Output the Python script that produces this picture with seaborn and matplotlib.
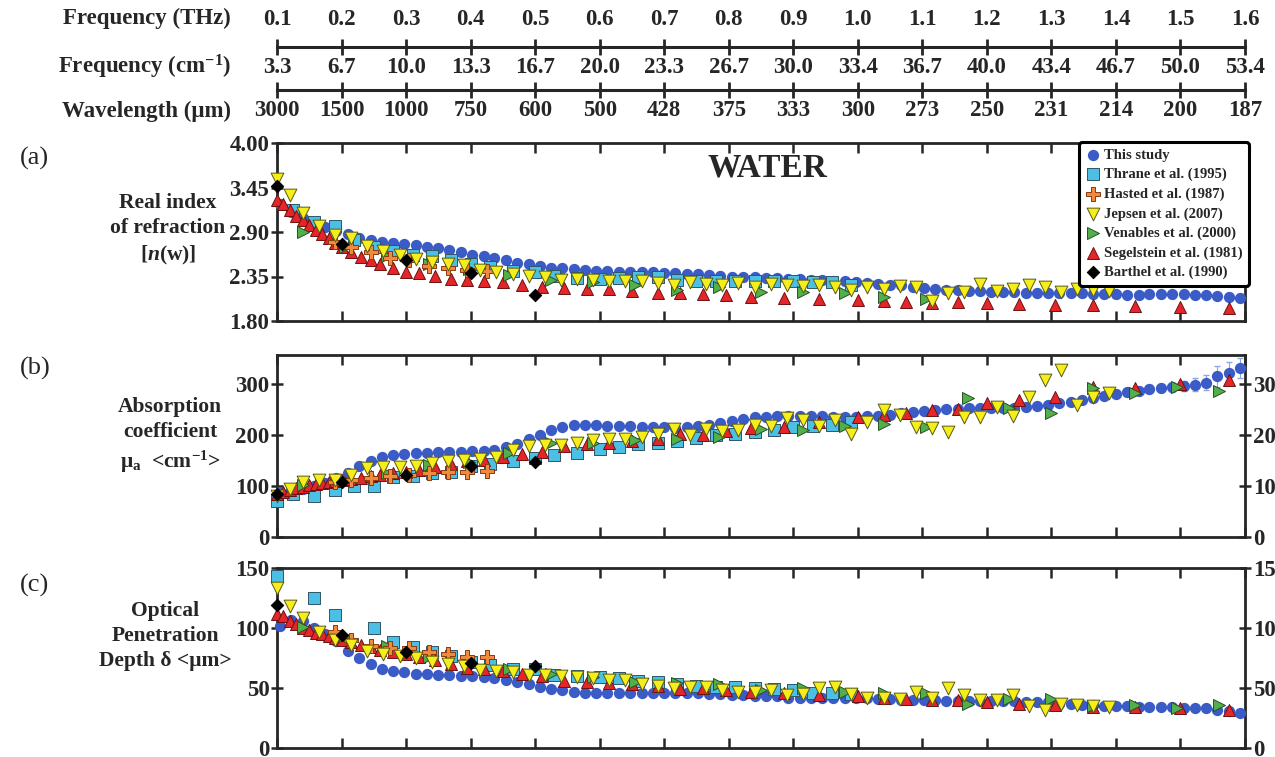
import numpy as np
import pandas as pd
import matplotlib.pyplot as plt
import seaborn as sns

sns.set_style("ticks")
# fonte serifada em negrito como no artigo (definir depois do set_style)
plt.rcParams['font.family'] = ['Liberation Serif', 'DejaVu Serif']
plt.rcParams['font.weight'] = 'bold'
plt.rcParams['mathtext.fontset'] = 'custom'
plt.rcParams['mathtext.rm'] = 'Liberation Serif:bold'
plt.rcParams['mathtext.it'] = 'Liberation Serif:italic:bold'
plt.rcParams['mathtext.bf'] = 'Liberation Serif:bold'

# eixos de frequencia / comprimento de onda
thz_ticks = [0.1, 0.2, 0.3, 0.4, 0.5, 0.6, 0.7, 0.8, 0.9, 1.0, 1.1, 1.2, 1.3, 1.4, 1.5, 1.6]
thz_labels = ['0.1', '0.2', '0.3', '0.4', '0.5', '0.6', '0.7', '0.8', '0.9', '1.0',
              '1.1', '1.2', '1.3', '1.4', '1.5', '1.6']
cm_labels = ['3.3', '6.7', '10.0', '13.3', '16.7', '20.0', '23.3', '26.7', '30.0', '33.4',
             '36.7', '40.0', '43.4', '46.7', '50.0', '53.4']
wl_labels = ['3000', '1500', '1000', '750', '600', '500', '428', '375', '333', '300',
             '273', '250', '231', '214', '200', '187']

# This study
x_this = [0.105, 0.122, 0.140, 0.157, 0.175, 0.192, 0.210, 0.227, 0.245, 0.262,
          0.280, 0.297, 0.315, 0.332, 0.350, 0.367, 0.385, 0.402, 0.420, 0.437,
          0.455, 0.472, 0.490, 0.507, 0.525, 0.542, 0.560, 0.577, 0.595, 0.612,
          0.630, 0.647, 0.665, 0.682, 0.700, 0.717, 0.735, 0.752, 0.770, 0.787,
          0.805, 0.822, 0.840, 0.857, 0.875, 0.892, 0.910, 0.927, 0.945, 0.962,
          0.980, 0.997, 1.015, 1.032, 1.050, 1.067, 1.085, 1.102, 1.120, 1.137,
          1.155, 1.172, 1.190, 1.207, 1.225, 1.242, 1.260, 1.277, 1.295, 1.312,
          1.330, 1.347, 1.365, 1.382, 1.400, 1.417, 1.435, 1.452, 1.470, 1.487,
          1.505, 1.522, 1.540, 1.557, 1.575, 1.592]
n_this = [3.25, 3.15, 3.07, 3.01, 2.96, 2.91, 2.87, 2.83, 2.80, 2.78,
          2.77, 2.75, 2.74, 2.72, 2.70, 2.68, 2.65, 2.62, 2.60, 2.58,
          2.55, 2.52, 2.50, 2.48, 2.46, 2.45, 2.44, 2.43, 2.42, 2.42,
          2.41, 2.41, 2.40, 2.40, 2.39, 2.39, 2.38, 2.38, 2.37, 2.36,
          2.35, 2.34, 2.34, 2.33, 2.33, 2.32, 2.32, 2.31, 2.31, 2.30,
          2.29, 2.28, 2.27, 2.26, 2.25, 2.24, 2.22, 2.21, 2.19, 2.18,
          2.18, 2.17, 2.17, 2.16, 2.16, 2.16, 2.15, 2.15, 2.15, 2.14,
          2.14, 2.14, 2.13, 2.13, 2.13, 2.12, 2.12, 2.13, 2.13, 2.13,
          2.13, 2.12, 2.12, 2.11, 2.10, 2.09]
mu_this = [88, 92, 95, 100, 106, 115, 126, 140, 150, 156,
           160, 163, 164, 165, 166, 166, 167, 168, 169, 171,
           176, 183, 192, 201, 210, 216, 219, 220, 219, 218,
           217, 217, 216, 216, 215, 214, 215, 217, 220, 224,
           228, 232, 235, 236, 237, 237, 238, 238, 237, 236,
           236, 236, 237, 238, 240, 243, 245, 247, 249, 251,
           252, 253, 253, 253, 253, 254, 255, 257, 259, 262,
           265, 269, 273, 277, 281, 284, 287, 290, 292, 294,
           296, 299, 303, 315, 322, 332]
mu_err = [4, 4, 4, 4, 4, 4, 4, 4, 4, 4,
          4, 4, 4, 4, 4, 4, 4, 4, 4, 4,
          4, 4, 4, 4, 4, 4, 4, 4, 4, 4,
          4, 4, 4, 4, 4, 4, 4, 4, 4, 4,
          4, 4, 4, 4, 4, 4, 4, 4, 4, 4,
          5, 5, 5, 5, 5, 5, 5, 5, 5, 5,
          5, 5, 5, 5, 5, 5, 6, 6, 6, 6,
          6, 6, 7, 7, 7, 7, 8, 8, 8, 9,
          10, 12, 15, 20, 22, 20]
d_this = [102, 107, 106, 100, 95, 89, 81, 75, 70, 66,
          64, 63, 62, 62, 61, 61, 60, 60, 59, 58,
          57, 55, 53, 51, 49, 48, 47, 46, 46, 46,
          46, 46, 46, 46, 46, 46, 46, 46, 45, 45,
          44, 44, 43, 43, 43, 42, 42, 42, 42, 42,
          42, 42, 42, 41, 41, 40, 40, 40, 40, 39,
          39, 39, 39, 39, 39, 39, 38, 38, 38, 37,
          37, 36, 36, 35, 35, 35, 34, 34, 34, 34,
          33, 33, 33, 32, 31, 29]

# Thrane et al. (1995)
x_thr = [0.100, 0.125, 0.158, 0.190, 0.220, 0.250, 0.280, 0.310, 0.340, 0.370,
         0.400, 0.430, 0.465, 0.500, 0.530, 0.565, 0.600, 0.630, 0.660, 0.690,
         0.720, 0.750, 0.780, 0.810, 0.840, 0.870, 0.900, 0.930, 0.960, 0.990]
n_thr = [np.nan, 3.17, 3.02, 2.98, 2.80, 2.72, 2.66, 2.62, 2.60, 2.55,
         2.50, 2.47, 2.42, 2.40, 2.36, 2.33, 2.32, 2.33, 2.35, 2.34,
         2.31, 2.30, 2.30, 2.30, 2.29, 2.29, 2.29, 2.28, 2.28, 2.25]
mu_thr = [70, 85, 80, 92, 100, 100, 118, 120, 125, 128,
          140, 143, 150, 155, 160, 165, 172, 176, 182, 184,
          188, 195, 200, 203, 206, 210, 215, 217, 219, 225]
d_thr = [143, np.nan, 125, 111, np.nan, 100, 88, 84, 80, 77,
         72, 69, 66, 66, 61, 60, 59, 58, 56, 55,
         53, 52, 51, 51, 50, 49, 48, 46, 46, 45]

# Hasted et al. (1987)
x_has = [0.190, 0.215, 0.245, 0.275, 0.305, 0.335, 0.365, 0.395, 0.425]
n_has = [2.78, 2.72, 2.65, 2.58, 2.55, 2.48, 2.46, 2.43, 2.42]
mu_has = [108, 112, 115, 120, 122, 125, 127, 128, 130]
d_has = [97, 90, 85, 83, 83, 80, 78, 76, 76]

# Jepsen et al. (2007)
x_jep = [0.100, 0.120, 0.140, 0.165, 0.190, 0.215, 0.240, 0.265, 0.290, 0.315,
         0.340, 0.365, 0.390, 0.415, 0.440, 0.465, 0.490, 0.515, 0.540, 0.565,
         0.590, 0.615, 0.640, 0.665, 0.690, 0.715, 0.740, 0.765, 0.790, 0.815,
         0.840, 0.865, 0.890, 0.915, 0.940, 0.965, 0.990, 1.015, 1.040, 1.065,
         1.090, 1.115, 1.140, 1.165, 1.190, 1.215, 1.240, 1.265, 1.290, 1.315,
         1.340, 1.365, 1.390]
n_jep = [3.56, 3.36, 3.13, 2.98, 2.86, 2.83, 2.73, 2.67, 2.62, 2.57,
         2.53, 2.51, 2.49, 2.43, 2.41, 2.38, 2.36, 2.35, 2.31, 2.32,
         2.31, 2.30, 2.30, 2.29, 2.27, 2.25, 2.28, 2.26, 2.25, 2.27,
         2.22, 2.26, 2.24, 2.23, 2.25, 2.22, 2.18, 2.22, 2.20, 2.23,
         2.22, 2.05, 2.15, 2.16, 2.26, 2.17, 2.19, 2.24, 2.22, 2.16,
         2.20, 2.18, 2.17]
mu_jep = [80, 95, 108, 112, 112, 122, 135, 137, 138, 140,
          145, 150, 152, 153, 157, 170, 178, 180, 181, 185,
          190, 192, 193, 196, 203, 212, 200, 212, 207, 210,
          220, 218, 233, 230, 218, 230, 203, 225, 250, 240,
          216, 214, 206, 235, 235, 255, 237, 274, 308, 327,
          259, 274, 283]
d_jep = [133, 118, 108, 97, 90, 86, 81, 78, 77, 75,
         72, 70, 68, 65, 64, 63, 61, 61, 60, 59,
         58, 57, 57, 53, 52, 50, 51, 51, 48, 47,
         47, 48, 44, 45, 50, 51, 45, 42, 42, 41,
         47, 42, 50, 44, 40, 40, 44, 35, 32, 37,
         36, 35, 34]

# Venables et al. (2000)
x_ven = [0.140, 0.205, 0.270, 0.335, 0.398, 0.460, 0.525, 0.590, 0.655, 0.720,
         0.785, 0.850, 0.915, 0.980, 1.040, 1.105, 1.170, 1.235, 1.300, 1.365,
         1.430, 1.495, 1.560]
n_ven = [2.90, 2.72, 2.60, 2.50, 2.44, 2.37, 2.31, 2.28, 2.24, 2.18,
         2.22, 2.16, 2.16, 2.14, 2.10, 2.07, np.nan, np.nan, np.nan, np.nan,
         np.nan, np.nan, np.nan]
mu_ven = [102, 112, 125, 141, 147, 164, 184, 184, 190, 193,
          196, 212, 209, 218, 222, 216, 272, 253, 243, 292,
          282, 294, 287]
d_ven = [101, 93, 85, 76, 71, 66, 62, 59, 55, 54,
         53, 48, 50, 47, 46, 46, 37, 41, 41, 35,
         36, 33, 36]

# Segelstein et al. (1981)
x_seg = [0.100, 0.110, 0.120, 0.130, 0.140, 0.150, 0.160, 0.170, 0.180, 0.190,
         0.200, 0.215, 0.230, 0.245, 0.260, 0.280, 0.300, 0.320, 0.345, 0.370,
         0.395, 0.420, 0.450, 0.480, 0.510, 0.545, 0.580, 0.615, 0.650, 0.690,
         0.725, 0.760, 0.795, 0.835, 0.885, 0.940, 1.000, 1.040, 1.075, 1.115,
         1.155, 1.200, 1.250, 1.305, 1.365, 1.430, 1.500, 1.575]
n_seg = [3.30, 3.24, 3.17, 3.10, 3.05, 2.99, 2.92, 2.87, 2.82, 2.77,
         2.72, 2.65, 2.59, 2.55, 2.50, 2.46, 2.40, 2.39, 2.36, 2.32,
         2.31, 2.30, 2.28, 2.25, 2.22, 2.21, 2.20, 2.19, 2.17, 2.15,
         2.15, 2.13, 2.12, 2.10, 2.09, 2.07, 2.06, 2.05, 2.03, 2.02,
         2.03, 2.02, 2.01, 2.00, 2.00, 1.98, 1.97, 1.96]
mu_seg = [85, 89, 93, 96, 99, 102, 104, 105, 107, 109,
          111, 113, 116, 119, 122, 125, 128, 132, 137, 143,
          150, 152, 157, 162, 167, 178, 182, 185, 188, 193,
          203, 200, 207, 213, 216, 226, 235, 239, 244, 250,
          252, 262, 269, 275, 295, 293, 301, 308]
d_seg = [112, 110, 106, 103, 100, 98, 96, 95, 93, 92,
         90, 88, 86, 84, 82, 80, 78, 76, 73, 70,
         67, 66, 64, 62, 60, 56, 55, 54, 53, 52,
         49, 50, 48, 47, 46, 44, 43, 42, 41, 40,
         40, 38, 37, 36, 34, 34, 33, 32]

# Barthel et al. (1990)
x_bar = [0.1, 0.2, 0.3, 0.4, 0.5]
n_bar = [3.47, 2.75, 2.55, 2.39, 2.12]
mu_bar = [85, 108, 122, 140, 148]
d_bar = [119, 94, 80, 71, 68]

# estilo de cada serie: (marcador, cor, borda, tamanho, ordem)
estilos = {
    'This study':            ('o', '#3b5cc6', '#3b5cc6', 66, 3),
    'Thrane et al. (1995)':  ('s', '#4cc0e4', '#2f5666', 74, 4),
    'Hasted et al. (1987)':  ('P', '#f08a3c', '#8a3a10', 90, 6),
    'Jepsen et al. (2007)':  ('v', '#f5ee1a', '#5a5a10', 84, 7),
    'Venables et al. (2000)': ('>', '#52b04a', '#284f26', 74, 5),
    'Segelstein et al. (1981)': ('^', '#e4262a', '#6e1010', 74, 4.5),
    'Barthel et al. (1990)': ('D', '#000000', '#000000', 40, 8),
}

fig = plt.figure(figsize=(12.75, 7.57), dpi=100)
L, W = 277 / 1275, 968 / 1275
ax_a = fig.add_axes([L, 1 - 321 / 757, W, 178 / 757])
ax_b = fig.add_axes([L, 1 - 537 / 757, W, 182 / 757])
ax_c = fig.add_axes([L, 1 - 748 / 757, W, 180 / 757])

dados = {
    'This study': (x_this, n_this, mu_this, d_this),
    'Thrane et al. (1995)': (x_thr, n_thr, mu_thr, d_thr),
    'Hasted et al. (1987)': (x_has, n_has, mu_has, d_has),
    'Jepsen et al. (2007)': (x_jep, n_jep, mu_jep, d_jep),
    'Venables et al. (2000)': (x_ven, n_ven, mu_ven, d_ven),
    'Segelstein et al. (1981)': (x_seg, n_seg, mu_seg, d_seg),
    'Barthel et al. (1990)': (x_bar, n_bar, mu_bar, d_bar),
}

# barras de erro do "This study"
cor_erro = '#8ea6e6'
ax_a.errorbar(x_this, n_this, yerr=0.04, fmt='none', ecolor=cor_erro, elinewidth=0.8, capsize=2, zorder=2)
ax_b.errorbar(x_this, mu_this, yerr=mu_err, fmt='none', ecolor=cor_erro, elinewidth=0.8, capsize=2, zorder=2)
ax_c.errorbar(x_this, d_this, yerr=1.5, fmt='none', ecolor=cor_erro, elinewidth=0.8, capsize=2, zorder=2)

for nome, (x, n, mu, d) in dados.items():
    marc, cor, borda, tam, z = estilos[nome]
    lw = 0 if nome == 'This study' else 0.7
    for ax, y in [(ax_a, n), (ax_b, mu), (ax_c, d)]:
        sns.scatterplot(x=x, y=y, ax=ax, marker=marc, color=cor, edgecolor=borda,
                        linewidth=lw, s=tam, zorder=z, clip_on=False,
                        label=nome if ax is ax_a else None, legend=False)

for ax in [ax_a, ax_b, ax_c]:
    ax.set_xlim(0.1, 1.6)
    ax.set_xticks(thz_ticks)
    ax.set_xlabel('')
    ax.set_ylabel('')
    ax.tick_params(axis='x', direction='in', top=True, bottom=True, labelbottom=False,
                   length=7, width=1.8)
    ax.tick_params(axis='y', direction='inout', length=9, width=1.8, labelsize=16.5, pad=1)
    for s in ax.spines.values():
        s.set_linewidth(2.0)
        s.set_visible(True)

ax_a.set_ylim(1.8, 4.0)
ax_a.set_yticks([1.80, 2.35, 2.90, 3.45, 4.00], ['1.80', '2.35', '2.90', '3.45', '4.00'])
ax_b.set_ylim(0, 357)
ax_b.set_yticks([0, 100, 200, 300], ['0', '100', '200', '300'])
ax_c.set_ylim(0, 150)
ax_c.set_yticks([0, 50, 100, 150], ['0', '50', '100', '150'])
for ax in [ax_b, ax_c]:
    ax.tick_params(axis='y', right=True, labelright=True)

ax_a.text(0.507, 0.86, 'WATER', transform=ax_a.transAxes, ha='center', va='center', fontsize=24)

# legenda na ordem do artigo
hs, ls = ax_a.get_legend_handles_labels()
ordem = list(estilos.keys())
pares = sorted(zip(hs, ls), key=lambda p: ordem.index(p[1]))
leg = ax_a.legend([p[0] for p in pares], [p[1] for p in pares], loc='upper right',
                  bbox_to_anchor=(1.004, 1.006), borderaxespad=0, frameon=True, fancybox=True,
                  prop={'size': 10.5, 'weight': 'bold'}, handletextpad=0.25, labelspacing=0.42,
                  borderpad=0.45, handlelength=1.0, markerscale=1.0, framealpha=1)
leg.get_frame().set_edgecolor('black')
leg.get_frame().set_linewidth(2.2)
leg.set_zorder(10)

# linhas de escala no topo
def linha_escala(y_fig):
    axl = fig.add_axes([L, y_fig, W, 0.0001])
    axl.set_xlim(0.1, 1.6)
    axl.set_yticks([])
    axl.patch.set_visible(False)
    for s in ['left', 'right', 'top']:
        axl.spines[s].set_visible(False)
    axl.spines['bottom'].set_linewidth(2.2)
    axl.set_xticks(thz_ticks)
    return axl

ax_t1 = linha_escala(1 - 47 / 757)
ax_t1.set_xticklabels(thz_labels)
ax_t1.tick_params(axis='x', direction='inout', length=11, width=2, bottom=True, top=False,
                  labelbottom=False, labeltop=True, labelsize=16.5, pad=7)

ax_t2 = linha_escala(1 - 90 / 757)
ax_t2.set_xticklabels(wl_labels)
ax_t2.tick_params(axis='x', direction='inout', length=11, width=2, bottom=True, top=False,
                  labelbottom=True, labeltop=False, labelsize=16.5, pad=2)
ax_t2b = ax_t2.twiny()
ax_t2b.set_xlim(0.1, 1.6)
ax_t2b.set_xticks(thz_ticks, cm_labels)
for s in ax_t2b.spines.values():
    s.set_visible(False)
ax_t2b.tick_params(axis='x', direction='inout', length=11, width=0, top=False, bottom=False,
                   labeltop=True, labelbottom=False, labelsize=16.5, pad=3)

fig.text(0.181, 1 - 18 / 757, 'Frequency (THz)', ha='right', va='center', fontsize=16.5)
fig.text(0.181, 1 - 67 / 757, 'Frequency (cm$^{-1}$)', ha='right', va='center', fontsize=16.5)
fig.text(0.181, 1 - 111 / 757, 'Wavelength (μm)', ha='right', va='center', fontsize=16.5)

fig.text(168 / 1275, 1 - 230 / 757, 'Real index\nof refraction\n[$n$(w)]',
         ha='center', va='center', fontsize=15.5, linespacing=1.35)
fig.text(170 / 1275, 1 - 436 / 757, 'Absorption\ncoefficient\nμ$_{\\mathrm{a}}$  <cm$^{-1}$>',
         ha='center', va='center', fontsize=15.5, linespacing=1.35)
fig.text(165 / 1275, 1 - 636 / 757, 'Optical\nPenetration\nDepth δ <μm>',
         ha='center', va='center', fontsize=15.5, linespacing=1.35)

for txt, yp in [('(a)', 158), ('(b)', 368), ('(c)', 585)]:
    fig.text(20 / 1275, 1 - yp / 757, txt, ha='left', va='center', fontsize=19, fontweight='normal')

plt.savefig('out.png', dpi=100)
